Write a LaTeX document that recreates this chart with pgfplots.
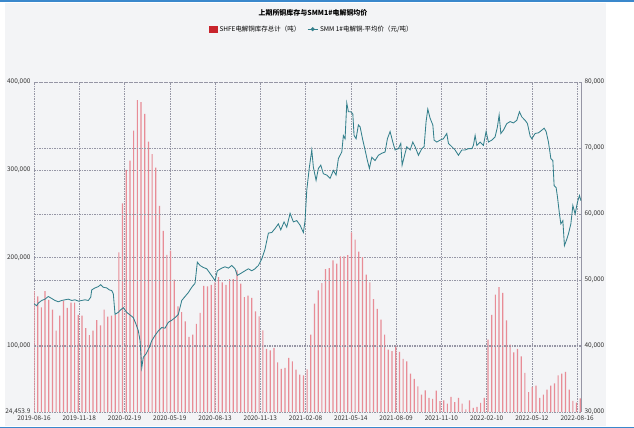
\documentclass[border=0pt]{standalone}
\usepackage{fontspec}
\setmainfont{Noto Sans CJK SC}
\usepackage{pgfplots}
\usepackage{pgfplotstable}
\pgfplotsset{compat=1.18}

\definecolor{bgc}{RGB}{243,244,246}
\definecolor{edgeblue}{RGB}{58,136,204}
\definecolor{gridc}{RGB}{150,150,165}
\definecolor{barc}{RGB}{232,140,150}
\definecolor{legred}{RGB}{200,36,44}
\definecolor{linec}{RGB}{52,128,140}

% SHFE weekly copper inventory (t), one row per week
\pgfplotstableread{
i v
0 162000
1 156000
2 143500
3 162000
4 152000
5 141000
6 117000
7 134000
8 151000
9 143000
10 149000
11 149000
12 135000
13 134000
14 120000
15 112000
16 117000
17 129000
18 123000
19 141000
20 133000
21 134000
22 135000
23 206000
24 262000
25 300000
26 310600
27 344700
28 379500
29 377000
30 363600
31 332000
32 318000
33 302600
34 259000
35 230700
36 203400
37 208000
38 175000
39 144700
40 138000
41 127600
42 110000
43 112500
44 124600
45 137200
46 168000
47 167400
48 169000
49 172000
50 178000
51 172000
52 169000
53 175800
54 175800
55 185600
56 170500
57 155300
58 156800
59 154200
60 139000
61 133300
62 117400
63 96200
64 94700
65 97400
66 81000
67 73500
68 74600
69 86000
70 82200
71 72700
72 67000
73 66000
74 73000
75 112500
76 147700
77 162800
78 171200
79 187000
80 188300
81 196900
82 193200
83 201500
84 201500
85 203000
86 228800
87 220500
88 207000
89 200800
90 180700
91 172000
92 153000
93 141700
94 129500
95 112500
96 95500
97 93600
98 100000
99 93000
100 84900
101 82200
102 68200
103 62200
104 53700
105 44300
106 49200
107 40500
108 39400
109 48900
110 36700
111 37800
112 34100
113 41700
114 35600
115 40500
116 34100
117 27300
118 37800
119 29200
120 30300
121 34800
122 40500
123 106800
124 135000
125 158000
126 166700
127 160000
128 128800
129 101000
130 92400
131 96200
132 87800
133 69000
134 47000
135 53000
136 54500
137 40500
138 44300
139 50000
140 54500
141 57000
142 66000
143 68000
144 70000
145 50000
146 37000
147 35000
148 40000
}\inventory

% SMM 1# copper average price (yuan/t), x in weeks
\pgfplotstableread{
x p
0 46400
0.73 46100
1.17 46500
2.09 46900
2.98 47100
3.88 47500
4.80 47200
5.69 46900
6.59 46700
7.51 46900
8.40 47000
9.30 47100
10.22 46900
11.11 47000
12.01 46800
12.93 46900
13.82 47000
14.72 46900
15.37 47400
15.64 48500
16.53 48800
17.43 49000
18.08 49300
18.78 48900
19.70 48800
20.41 48500
21.06 48400
21.49 47900
21.95 44800
22.85 45100
23.31 45400
24.20 45800
25.12 45100
26.02 44700
26.91 44300
27.64 43300
28.27 42300
28.73 40800
29.19 36700
29.62 38300
30.35 38800
31.25 39800
31.90 40800
32.79 41600
33.69 42300
34.61 42800
35.50 42700
36.40 43600
37.32 43900
38.21 44300
39.11 44800
40.03 46900
40.92 47500
41.82 48100
42.74 48900
43.63 49500
44.25 52700
44.99 52200
45.88 51900
46.80 51700
47.70 51000
48.59 50300
49.05 49900
49.67 51400
50.87 51800
51.76 52000
52.66 51800
53.58 52200
54.47 51700
55.09 50700
56.02 51000
57.18 51400
58.08 51700
59.00 51400
59.89 51700
60.79 52200
61.71 53200
62.60 54700
63.50 57100
64.42 57200
65.31 57800
66.21 58500
66.86 57600
67.75 58800
68.48 58000
69.38 60100
70.27 58800
71.19 59000
72.09 58300
72.98 57200
73.44 59000
73.90 63600
74.61 67100
75.26 69700
75.69 67100
76.42 65100
77.05 66900
77.70 67400
78.40 66100
79.32 65900
80.22 65400
81.11 66600
81.84 65900
82.47 68400
83.39 69400
83.82 71900
84.28 71400
84.74 76800
85.18 75500
85.83 75500
86.37 75200
86.72 71900
87.26 71400
87.89 73500
88.35 73200
89.08 71200
89.70 69700
90.33 68100
90.87 66900
91.52 68600
92.41 68100
93.31 68900
94.23 69200
95.12 69400
95.75 71400
96.48 72500
97.21 70900
97.83 69700
98.73 69900
99.38 70700
99.73 67400
100.27 68600
101.00 70200
101.90 69700
102.63 70900
103.25 70200
104.15 68900
105.07 69900
105.69 70200
106.23 74000
106.69 75900
107.32 74500
108.05 73500
108.40 71200
109.13 70900
110.03 71200
110.92 71400
111.84 72200
112.28 70700
113.20 70200
114.09 69700
114.99 68900
115.91 69700
116.80 69700
117.70 69900
118.62 69900
119.05 70400
119.51 71900
119.97 70400
120.87 70900
121.76 70400
122.49 72500
123.12 70900
124.04 71200
124.93 71700
125.56 73200
126.02 75000
126.48 72200
127.18 72700
128.10 73700
129.00 74000
129.89 73800
130.81 74200
131.52 75500
132.17 74700
133.06 74200
133.69 73700
134.42 71800
134.88 71400
135.77 72200
136.67 72300
137.59 72700
138.21 73000
138.75 72500
139.38 70900
140.03 68400
140.57 68100
140.92 64300
141.46 64000
141.82 62600
142.36 60000
142.74 58500
143.28 59000
143.71 55200
144.36 56200
144.80 57000
145.45 58500
145.99 61300
146.61 60000
147.24 61800
147.78 62800
148.2 62000
}\price

\pgfplotsset{
  base/.style={
    scale only axis, width=547bp, height=330bp,
    at={(34bp,16bp)}, anchor=south west,
    xmin=0, xmax=148.2,
    scaled y ticks=false, scaled x ticks=false,
    major tick length=0pt,
    ticklabel style={font=\fontsize{6.5}{7}\selectfont, text=black!80},
    grid style={gridc, line width=0.55bp, dash pattern=on 1.5bp off 1bp},
    axis line style={gridc, line width=0.55bp, dash pattern=on 1.5bp off 1bp},
  },
}

\begin{document}
\begin{tikzpicture}
\path[use as bounding box] (0,0) rectangle (634bp,428bp);
\fill[bgc] (5bp,2bp) rectangle (606bp,425bp);
\fill[edgeblue] (0,425.5bp) rectangle (634bp,428bp);
\fill[edgeblue] (0,0) rectangle (634bp,1.5bp);

\node[font=\fontsize{7}{8}\selectfont\bfseries] at (313bp,415.5bp)
  {上期所铜库存与SMM1\#电解铜均价};

\begin{axis}[base,
  ymin=24453.9, ymax=400000,
  ytick={24453.9,100000,200000,300000,400000},
  yticklabels={{24,453.9},{100,000},{200,000},{300,000},{400,000}},
  xtick={0,12.26,24.53,36.79,49.05,61.31,73.58,85.84,98.10,110.37,122.63,134.89,147.15},
  xticklabels={2019-08-16,2019-11-18,2020-02-19,2020-05-19,2020-08-13,2020-11-13,2021-02-08,2021-05-14,2021-08-09,2021-11-10,2022-02-10,2022-05-12,2022-08-16},
  xmajorgrids, ymajorgrids,
]
\addplot[ybar, bar width=0.32, fill=barc, draw=none] table[x=i, y=v] {\inventory};
\end{axis}

\begin{axis}[base,
  ymin=30000, ymax=80000,
  ytick={30000,40000,50000,60000,70000,80000},
  yticklabels={{30,000},{40,000},{50,000},{60,000},{70,000},{80,000}},
  axis y line*=right, axis x line=none,
  ymajorgrids,
  legend columns=2,
  legend style={at={(axis description cs:0.508,1.16)}, anchor=center,
    draw=none, fill=none, inner sep=0pt,
    font=\fontsize{6.5}{7}\selectfont,
    /tikz/every even column/.append style={column sep=5bp}},
]
\addlegendimage{legend image code/.code={\fill[legred] (0bp,-3bp) rectangle (8bp,3bp);}}
\addlegendentry{SHFE电解铜库存总计（吨）}
\addlegendimage{legend image code/.code={
  \draw[linec, line width=0.8bp] (0bp,0bp) -- (10bp,0bp);
  \fill[linec] (5bp,1.8bp) -- (6.8bp,0bp) -- (5bp,-1.8bp) -- (3.2bp,0bp) -- cycle;}}
\addlegendentry{SMM 1\#电解铜-平均价（元/吨）}
\addplot[linec, line width=0.85bp, mark=none, forget plot] table[x=x, y=p] {\price};
\end{axis}
\end{tikzpicture}
\end{document}
